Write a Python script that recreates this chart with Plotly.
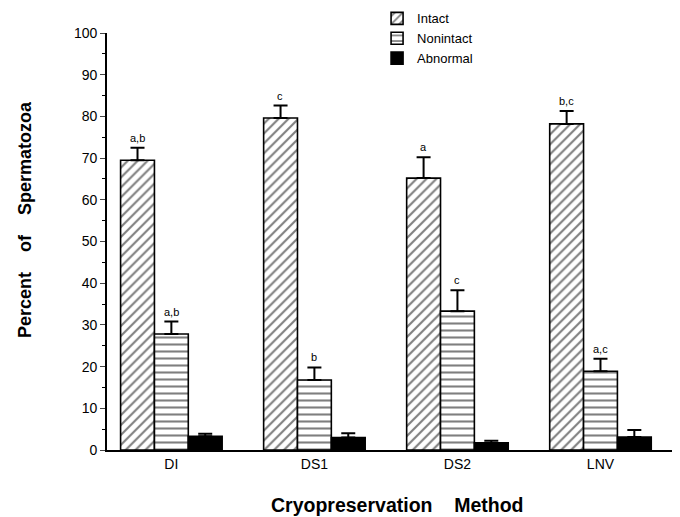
import plotly.graph_objects as go

methods = ["DI", "DS1", "DS2", "LNV"]
intact = [69.5, 79.6, 65.2, 78.2]
intact_err = [3.0, 3.0, 5.0, 3.1]
nonintact = [27.8, 16.8, 33.3, 18.9]
nonintact_err = [3.0, 3.0, 5.0, 3.0]
abnormal = [3.3, 3.0, 1.7, 3.1]
abnormal_err = [0.6, 1.0, 0.5, 1.7]
intact_labels = ["a,b", "c", "a", "b,c"]
nonintact_labels = ["a,b", "b", "c", "a,c"]

FONT = "Liberation Sans, Arial, sans-serif"
fig = go.Figure()

def add(name, vals, errs, shape):
    fig.add_trace(go.Bar(
        name=name, x=methods, y=vals,
        marker=dict(color="white" if shape else "black",
                    line=dict(color="black", width=1.6),
                    pattern=dict(shape=shape, fgcolor="black", bgcolor="white",
                                 size=7, solidity=0.3) if shape else None),
        error_y=dict(type="data", array=errs, arrayminus=[0]*len(errs), symmetric=False,
                     color="black", thickness=2, width=7),
    ))

add("Intact", intact, intact_err, "/")
add("Nonintact", nonintact, nonintact_err, "-")
add("Abnormal", abnormal, abnormal_err, "")

# letter annotations above error bars
offsets = {"Intact": -34/143, "Nonintact": 0.0}
for series, vals, errs, labs in [("Intact", intact, intact_err, intact_labels),
                                 ("Nonintact", nonintact, nonintact_err, nonintact_labels)]:
    for i, (v, e, l) in enumerate(zip(vals, errs, labs)):
        fig.add_annotation(x=i + offsets[series], y=v + e, text=l, showarrow=False,
                           yanchor="bottom", yshift=2, xref="x", yref="y",
                           font=dict(size=11, family=FONT, color="#000000"))

# axis titles
fig.add_annotation(x=(397 - 107) / 565, y=-(505 - 450) / 417, xref="paper", yref="paper",
                   text="<b>Cryopreservation    Method</b>", showarrow=False,
                   xanchor="center", yanchor="middle",
                   font=dict(size=19.5, family=FONT, color="black"))
fig.add_annotation(x=-(107 - 25) / 565, y=(450 - 220) / 417, xref="paper", yref="paper",
                   text="<b>Percent    of    Spermatozoa</b>", showarrow=False, textangle=-90,
                   xanchor="center", yanchor="middle",
                   font=dict(size=18, family=FONT, color="black"))

fig.update_layout(
    width=680, height=517,
    margin=dict(l=107, r=8, t=33, b=67, autoexpand=False),
    paper_bgcolor="white", plot_bgcolor="white",
    barmode="group", bargap=0.29, bargroupgap=0,
    font=dict(family=FONT, color="black", size=13),
    showlegend=True,
    legend=dict(x=0.478, y=1.071, xanchor="left", yanchor="top",
                bgcolor="rgba(0,0,0,0)", font=dict(size=13), tracegroupgap=0,
                itemwidth=30),
    xaxis=dict(range=[-0.45, 3.5], showline=True, linecolor="black", linewidth=1.8,
               ticks="", showgrid=False, zeroline=False, tickfont=dict(size=14)),
    yaxis=dict(range=[0, 100], showline=True, linecolor="black", linewidth=1.8,
               tickvals=list(range(0, 101, 10)), ticks="outside", ticklen=5,
               minor=dict(tickvals=list(range(5, 100, 10)), ticks="outside", ticklen=3, tickcolor="black"),
               showgrid=False, zeroline=False, tickfont=dict(size=14)),
)

fig.write_html("out.html")
